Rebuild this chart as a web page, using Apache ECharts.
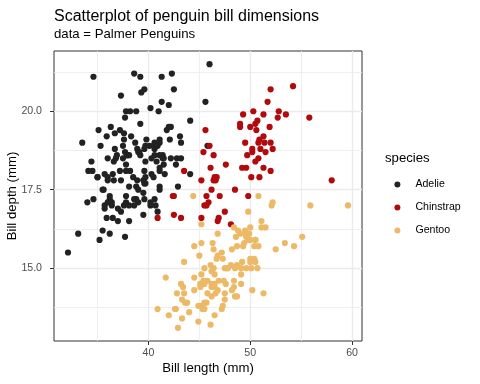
<!DOCTYPE html>
<html>
<head>
<meta charset="utf-8">
<script src="https://cdn.jsdelivr.net/npm/echarts@6/dist/echarts.min.js"></script>
<style>html,body{margin:0;padding:0;background:#fff}#c{width:480px;height:384px}</style>
</head>
<body>
<div id="c"></div>
<script>
var speciesNames = ['Adelie', 'Chinstrap', 'Gentoo'];
var xTicks = [40, 50, 60];
var xMinorTicks = [35, 45, 55];
var yTicks = [15, 17.5, 20];
var yMinorTicks = [13.75, 16.25, 18.75, 21.25];

var adelieLength = [39.1,39.5,40.3,36.7,39.3,38.9,39.2,34.1,42.0,37.8,37.8,41.1,38.6,34.6,36.6,38.7,42.5,34.4,46.0,37.8,37.7,35.9,38.2,38.8,35.3,40.6,40.5,37.9,40.5,39.5,37.2,39.5,40.9,36.4,39.2,38.8,42.2,37.6,39.8,36.5,40.8,36.0,44.1,37.0,39.6,41.1,37.5,36.0,42.3,39.6,40.1,35.0,42.0,34.5,41.4,39.0,40.6,36.5,37.6,35.7,41.3,37.6,41.1,36.4,41.6,35.5,41.1,35.9,41.8,33.5,39.7,39.6,45.8,35.5,42.8,40.9,37.2,36.2,42.1,34.6,42.9,36.7,35.1,37.3,41.3,36.3,36.9,38.3,38.9,35.7,41.1,34.0,39.6,36.2,40.8,38.1,40.3,33.1,43.2,35.0,41.0,37.7,37.8,37.9,39.7,38.6,38.2,38.1,43.2,38.1,45.6,39.7,42.2,39.6,42.7,38.6,37.3,35.7,41.1,36.2,37.7,40.2,41.4,35.2,40.6,38.8,41.5,39.0,44.1,38.5,43.1,36.8,37.5,38.1,41.1,35.6,40.2,37.0,39.7,40.2,40.6,32.1,40.7,37.3,39.0,39.2,36.6,36.0,37.8,36.0,41.5];
var adelieDepth = [18.7,17.4,18.0,19.3,20.6,17.8,19.6,18.1,20.2,17.1,17.3,17.6,21.2,21.1,17.8,19.0,20.7,18.4,21.5,18.3,18.7,19.2,18.1,17.2,18.9,18.6,17.9,18.6,18.9,16.7,18.1,17.8,18.9,17.0,21.1,20.0,18.5,19.3,19.1,18.0,18.4,18.5,19.7,16.9,18.8,19.0,18.9,17.9,21.2,17.7,18.9,17.9,19.5,18.1,18.6,17.5,18.8,16.6,19.1,16.9,21.1,17.0,18.2,17.1,18.0,16.2,19.1,16.6,19.4,19.0,18.4,17.2,18.9,17.5,18.5,16.8,19.4,16.1,19.1,17.2,17.6,18.8,19.4,17.8,20.3,19.5,18.6,19.2,18.8,18.0,18.1,17.1,18.1,17.3,18.9,18.6,18.5,16.1,18.5,17.9,20.0,16.0,20.0,18.6,18.9,17.2,20.0,17.0,19.0,16.5,20.3,17.7,19.5,20.7,18.3,17.0,20.5,17.0,18.6,17.2,19.8,17.0,18.5,15.9,19.0,17.6,18.3,17.1,18.0,17.9,19.2,18.5,18.5,17.6,17.5,17.5,20.1,16.5,17.9,17.1,17.2,15.5,17.0,16.8,18.7,18.6,18.4,17.8,18.1,17.1,18.5];

var chinstrapLength = [46.5,50.0,51.3,45.4,52.7,45.2,46.1,51.3,46.0,51.3,46.6,51.7,47.0,52.0,45.9,50.5,50.3,58.0,46.4,49.2,42.4,48.5,43.2,50.6,46.7,52.0,50.5,49.5,46.4,52.8,40.9,54.2,42.5,51.0,49.7,47.5,47.6,52.0,46.9,53.5,49.0,46.2,50.9,45.5,50.9,50.8,50.1,49.0,51.5,49.8,48.1,51.4,45.7,50.7,42.5,52.2,45.2,49.3,50.2,45.6,51.9,46.8,45.7,55.8,43.5,49.6,50.8,50.2];
var chinstrapDepth = [17.9,19.5,19.2,18.7,19.8,17.8,18.2,18.2,18.9,19.9,17.8,20.3,17.3,18.1,17.1,19.6,20.0,17.8,18.6,18.2,17.3,17.5,16.6,19.4,17.9,19.0,18.4,19.0,17.8,20.0,16.6,20.8,16.7,18.8,18.6,16.8,18.3,20.7,16.6,19.9,19.5,17.5,19.1,17.0,17.9,18.5,17.9,19.6,18.7,17.3,16.4,19.0,17.3,19.7,17.3,18.8,16.6,19.9,18.8,19.4,19.5,16.5,17.0,19.8,18.1,18.2,19.0,18.7];

var gentooLength = [46.1,50.0,48.7,50.0,47.6,46.5,45.4,46.7,43.3,46.8,40.9,49.0,45.5,48.4,45.8,49.3,42.0,49.2,46.2,48.7,50.2,45.1,46.5,46.3,42.9,46.1,44.5,47.8,48.2,50.0,47.3,42.8,45.1,59.6,49.1,48.4,42.6,44.4,44.0,48.7,42.7,49.6,45.3,49.6,50.5,43.6,45.5,50.5,44.9,45.2,46.6,48.5,45.1,50.1,46.5,45.0,43.8,45.5,43.2,50.4,45.3,46.2,45.7,54.3,45.8,49.8,46.2,49.5,43.5,50.7,47.7,46.4,48.2,46.5,46.4,48.6,47.5,51.1,45.2,45.2,49.1,52.5,47.4,50.0,44.9,50.8,43.4,51.3,47.5,52.1,47.5,52.2,45.5,49.5,44.5,50.8,49.4,46.9,48.4,51.1,48.5,55.9,47.2,49.1,47.3,46.8,41.7,53.4,43.3,48.1,50.5,49.8,43.5,51.5,46.2,55.1,44.5,48.8,47.2,46.8,50.4,45.2,49.9];
var gentooDepth = [13.2,16.3,14.1,15.2,14.5,13.5,14.6,15.3,13.4,15.4,13.7,16.1,13.7,14.6,14.6,15.7,13.5,15.2,14.5,15.1,14.3,14.5,14.5,15.8,13.1,15.1,14.3,15.0,14.3,15.3,15.3,14.2,14.5,17.0,14.8,16.3,13.7,17.3,13.6,15.7,13.7,16.0,13.7,15.0,15.9,13.9,13.9,15.9,13.3,15.8,14.2,14.1,14.4,15.0,14.4,15.4,13.9,15.0,14.5,15.3,13.8,14.9,13.9,15.7,14.2,16.8,14.4,16.2,14.2,15.0,15.0,15.6,15.6,14.8,15.0,16.0,14.2,16.3,13.8,16.4,14.5,15.6,14.6,15.9,13.8,17.3,14.4,14.2,14.0,17.0,15.0,17.1,14.5,16.1,14.7,15.7,15.8,14.6,14.4,16.5,15.0,17.0,15.5,15.0,13.8,16.1,14.7,15.8,14.0,15.1,15.2,15.9,15.2,16.3,14.1,16.0,15.7,16.2,13.7,14.3,15.7,14.8,16.1];

var speciesColors = ['#222222', '#B20A0C', '#ECBA67'];

function zip(a, b) { return a.map(function (v, i) { return [v, b[i]]; }); }
var lengths = [adelieLength, chinstrapLength, gentooLength];
var depths = [adelieDepth, chinstrapDepth, gentooDepth];

var allX = [].concat(adelieLength, chinstrapLength, gentooLength);
var allY = [].concat(adelieDepth, chinstrapDepth, gentooDepth);
function expand(arr) {
  var lo = Math.min.apply(null, arr), hi = Math.max.apply(null, arr);
  var pad = (hi - lo) * 0.05;
  return [lo - pad, hi + pad];
}
var xr = expand(allX), yr = expand(allY);

var FONT = 'Liberation Sans';
var gridColor = '#EBEBEB';

var option = {
  animation: false,
  backgroundColor: '#ffffff',
  textStyle: { fontFamily: FONT },
  title: [
    { text: 'Scatterplot of penguin bill dimensions', left: 54, top: 9, padding: 0,
      textStyle: { fontFamily: FONT, fontSize: 16, fontWeight: 'normal', color: '#000', lineHeight: 16 } },
    { text: 'data = Palmer Penguins', left: 54, top: 27, padding: 0,
      textStyle: { fontFamily: FONT, fontSize: 13.2, fontWeight: 'normal', color: '#000', lineHeight: 14 } },
    { text: 'species', left: 385, top: 151.7, padding: 0,
      textStyle: { fontFamily: FONT, fontSize: 13.2, fontWeight: 'normal', color: '#000', lineHeight: 14 } }
  ],
  legend: {
    data: speciesNames,
    orient: 'vertical',
    left: 394.4,
    top: 173,
    padding: 0,
    itemGap: 0,
    itemWidth: 26,
    itemHeight: 6,
    icon: 'circle',
    textStyle: { fontFamily: FONT, fontSize: 10.6, color: '#000', lineHeight: 23 }
  },
  grid: {
    left: 54, top: 51, width: 308, height: 290,
    outerBoundsMode: 'none',
    show: true, borderColor: '#333333', borderWidth: 1, backgroundColor: 'transparent',
    containLabel: false
  },
  xAxis: [
    {
      type: 'value', min: xr[0], max: xr[1],
      name: 'Bill length (mm)', nameLocation: 'middle', nameGap: 20.5, nameMoveOverlap: false,
      nameTextStyle: { fontFamily: FONT, fontSize: 13.2, color: '#000' },
      axisLine: { show: false },
      axisTick: { show: true, length: 4, lineStyle: { color: '#333333', width: 1 }, customValues: xTicks },
      axisLabel: { customValues: xTicks, margin: 6.5, fontFamily: FONT, fontSize: 10.6, color: '#4D4D4D' },
      splitLine: { show: true, lineStyle: { color: gridColor, width: 1.4 } },
      z: 2
    },
    {
      type: 'value', min: xr[0], max: xr[1], position: 'bottom',
      axisLine: { show: false },
      axisTick: { show: false, customValues: xMinorTicks },
      axisLabel: { show: false, customValues: xMinorTicks },
      splitLine: { show: true, lineStyle: { color: gridColor, width: 0.8 } },
      z: 1
    }
  ],
  yAxis: [
    {
      type: 'value', min: yr[0], max: yr[1],
      name: 'Bill depth (mm)', nameLocation: 'middle', nameGap: 35.3, nameMoveOverlap: false,
      nameTextStyle: { fontFamily: FONT, fontSize: 13.2, color: '#000' },
      axisLine: { show: false },
      axisTick: { show: true, length: 4, lineStyle: { color: '#333333', width: 1 }, customValues: yTicks },
      axisLabel: { customValues: yTicks, margin: 12, fontFamily: FONT, fontSize: 10.6, color: '#4D4D4D',
        formatter: function (v) { return Number(v).toFixed(1); } },
      splitLine: { show: true, lineStyle: { color: gridColor, width: 1.4 } },
      z: 2
    },
    {
      type: 'value', min: yr[0], max: yr[1], position: 'left',
      axisLine: { show: false },
      axisTick: { show: false, customValues: yMinorTicks },
      axisLabel: { show: false, customValues: yMinorTicks },
      splitLine: { show: true, lineStyle: { color: gridColor, width: 0.8 } },
      z: 1
    }
  ],
  series: speciesNames.map(function (name, i) {
    return {
      name: name,
      type: 'scatter',
      xAxisIndex: 0, yAxisIndex: 0,
      data: zip(lengths[i], depths[i]),
      symbol: 'circle',
      symbolSize: 6.2,
      itemStyle: { color: speciesColors[i], opacity: 1 },
      emphasis: { disabled: true },
      z: 3
    };
  })
};

var chart = echarts.init(document.getElementById('c'), null, { renderer: 'canvas' });
chart.setOption(option);
</script>
</body>
</html>
